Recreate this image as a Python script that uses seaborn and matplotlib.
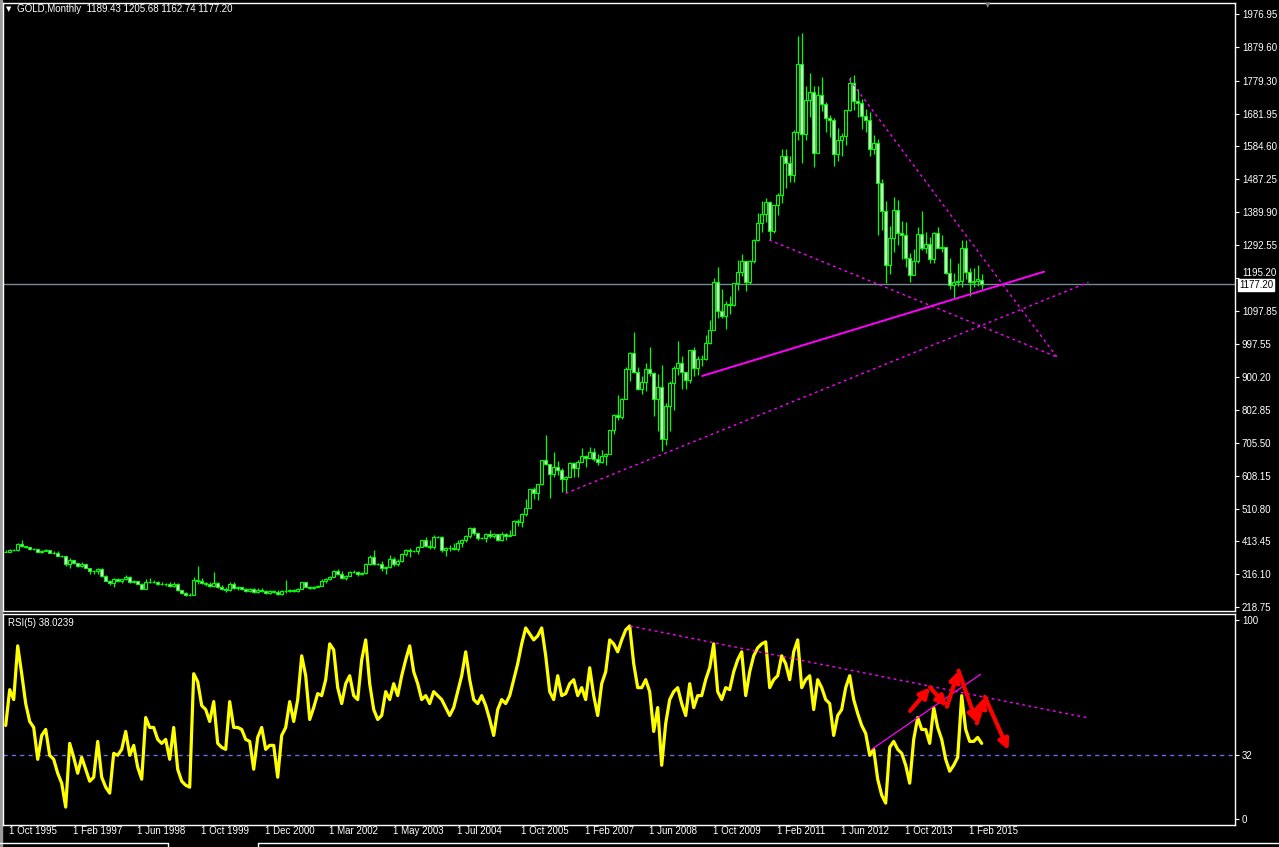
import numpy as np
import pandas as pd
import seaborn as sns
from matplotlib import pyplot as plt
from matplotlib.patches import Rectangle
from matplotlib.lines import Line2D

W, H = 1279, 847

# monthly candles, one entry per bar (Oct 1995 .. Jun 2015 as the terminal shows them)
close = [
    383, 387, 387, 405, 400, 396, 392, 391, 382, 385, 387, 379, 379, 371, 369,
    345, 358, 349, 340, 345, 334, 326, 325, 332, 311, 296, 290,
    303, 297, 301, 309, 293, 296, 288, 273, 293, 292, 294, 288,
    287, 287, 280, 286, 268, 261, 255, 254, 299,
    296, 289, 288, 280, 291, 277, 272, 268, 286, 274, 277, 272, 267, 272, 262, 270,
    266, 261, 266, 263, 257, 266, 265, 270, 265, 273,
    293, 279, 275, 279, 282, 296, 301, 309, 326, 318, 305, 312, 324, 324, 317, 319,
    347, 367, 347, 347, 334, 336, 361, 346, 354, 375, 388, 386, 386, 398, 416, 400,
    396, 427, 427, 387, 394, 395, 391, 408, 418, 428, 453, 438, 423, 423, 435, 428,
    435, 417, 436, 430, 433, 473,
    470, 495, 513,
    569, 556, 582, 654, 643, 613, 633, 624, 599, 604, 646, 632,
    650, 665, 662, 679, 659, 650, 666, 673, 743, 789, 783, 834,
    923, 971, 916, 865, 887, 925, 914, 834, 870, 718, 815, 884,
    928, 942, 916, 891, 980, 927, 954, 955, 1001, 1040, 1182, 1096,
    1081, 1118, 1113, 1180, 1213, 1244, 1181, 1246, 1307, 1357, 1383, 1421,
    1333, 1410, 1439, 1556, 1536, 1500, 1628, 1828, 1620, 1722, 1746, 1566,
    1738, 1710, 1669, 1664, 1561, 1604, 1614, 1693, 1772, 1720, 1712, 1675,
    1663, 1578, 1595, 1476, 1393, 1234, 1313, 1396, 1327, 1323, 1253, 1202,
    1244, 1326, 1284, 1296, 1250, 1327, 1282, 1287, 1210, 1172, 1183, 1184,
    1283, 1213, 1183, 1184, 1190, 1177.20,
]
high = [
    387, 390, 390, 408, 417, 401, 397, 394, 391, 389, 392, 388, 385, 384, 373,
    369, 365, 358, 350, 351, 346, 335, 329, 335, 333, 314, 299,
    305, 305, 303, 314, 311, 299, 296, 289, 301, 306, 300, 297,
    293, 291, 292, 292, 290, 268, 264, 260, 309,
    339, 305, 294, 292, 322, 294, 285, 278, 294, 292, 280, 279, 275, 275, 276, 274,
    276, 270, 269, 268, 268, 269, 298, 272, 272, 276,
    294, 294, 280, 281, 285, 303, 305, 310, 327, 330, 326, 315, 326, 327, 326, 323,
    349, 372, 389, 350, 354, 341, 374, 367, 362, 378, 392, 394, 389, 400, 417, 427,
    417, 432, 430, 430, 398, 403, 410, 416, 419, 432, 455, 456, 438, 426, 439, 446,
    438, 436, 441, 437, 447, 476,
    479, 497, 538,
    570, 574, 584, 655, 730, 643, 677, 652, 632, 608, 650, 648,
    656, 690, 670, 693, 691, 671, 683, 675, 745, 791, 847, 838,
    930, 975, 1033, 930, 905, 941, 989, 917, 910, 935, 825, 889,
    934, 1006, 963, 917, 981, 990, 962, 966, 1025, 1071, 1195, 1227,
    1163, 1127, 1140, 1180, 1249, 1265, 1244, 1248, 1309, 1388, 1424, 1432,
    1424, 1412, 1447, 1577, 1577, 1556, 1632, 1911, 1921, 1764, 1803, 1764,
    1764, 1791, 1716, 1677, 1668, 1640, 1625, 1693, 1790, 1796, 1754, 1725,
    1695, 1685, 1617, 1605, 1488, 1424, 1348, 1434, 1425, 1362, 1361, 1267,
    1280, 1345, 1392, 1331, 1315, 1332, 1345, 1323, 1287, 1255, 1208, 1239,
    1307, 1307, 1224, 1224, 1232, 1205.68,
]
low = [
    381, 382, 384, 386, 397, 394, 389, 389, 381, 380, 384, 378, 377, 370, 366,
    341, 334, 347, 337, 338, 334, 318, 318, 318, 308, 296, 283,
    278, 293, 289, 299, 291, 289, 286, 271, 273, 290, 289, 285,
    283, 282, 277, 279, 266, 257, 252, 251, 253,
    288, 286, 281, 278, 278, 274, 270, 263, 266, 271, 270, 268, 263, 264, 259, 259,
    262, 256, 257, 260, 255, 255, 260, 262, 263, 262,
    271, 277, 272, 273, 277, 281, 289, 300, 307, 315, 301, 300, 310, 321, 312, 314,
    317, 343, 344, 344, 325, 318, 335, 340, 341, 352, 371, 367, 383, 376, 397, 398,
    390, 390, 424, 382, 371, 386, 387, 384, 398, 412, 423, 433, 417, 420, 411, 424,
    423, 413, 414, 418, 429, 433,
    460, 456, 489,
    513, 538, 535, 580, 640, 542, 605, 610, 560, 561, 603, 605,
    603, 648, 635, 660, 651, 641, 645, 641, 671, 731, 772, 777,
    834, 889, 912, 863, 850, 860, 903, 786, 740, 682, 700, 740,
    802, 907, 865, 865, 882, 905, 906, 932, 952, 1000, 1040, 1075,
    1075, 1044, 1088, 1111, 1160, 1201, 1157, 1175, 1239, 1305, 1330, 1361,
    1308, 1327, 1381, 1417, 1462, 1478, 1478, 1603, 1535, 1602, 1672, 1523,
    1564, 1690, 1628, 1612, 1527, 1540, 1555, 1588, 1690, 1692, 1672, 1635,
    1626, 1555, 1562, 1321, 1338, 1180, 1207, 1270, 1291, 1251, 1226, 1182,
    1202, 1239, 1277, 1268, 1240, 1240, 1282, 1272, 1205, 1161, 1131, 1170,
    1167, 1190, 1142, 1168, 1170, 1162.74,
]
first_open = 382.0
last_open = 1189.43

rsi = [
    47, 65, 60, 87, 73, 58, 49, 46, 30, 42, 45, 32, 30, 23, 18, 6, 38, 31, 23, 31,
    25, 19, 21, 39, 21, 16, 13, 33, 32, 35, 44, 32, 37, 26, 20, 51, 46, 46, 40, 38,
    40, 30, 46, 25, 19, 17, 16, 73, 69, 57, 55, 49, 59, 38, 36, 35, 59, 46, 46, 45,
    40, 39, 25, 41, 46, 35, 37, 37, 21, 42, 46, 59, 49, 60, 82, 72, 50, 56, 63,
    62, 70, 88, 85, 66, 58, 68, 72, 62, 60,
    80, 90, 68, 55, 50, 52, 64, 60, 68, 62,
    72, 80, 87, 74, 68, 60, 62, 58, 64, 62,
    60, 56, 52, 56, 64, 72, 84, 70, 60, 58,
    62, 57, 50, 42, 55, 60, 58, 62, 70, 78,
    88, 96, 93, 90, 92, 96, 82, 64, 60, 72,
    62, 63, 68, 70, 62, 66, 60, 76, 62, 52,
    68, 74, 90, 88, 84, 90, 95, 97, 78, 66,
    66, 70, 64, 44, 56, 27, 48, 60, 64, 66,
    58, 52, 68, 56, 62, 62, 70, 76, 88, 64,
    60, 66, 65, 74, 80, 84, 62, 74, 82, 86,
    88, 89, 66, 70, 72, 82, 78, 70, 84, 90,
    66, 70, 72, 55, 70, 66, 60, 58, 42, 52,
    55, 66, 72, 60, 53, 47, 43, 32, 35, 20,
    12, 8, 36, 39, 35, 33, 27, 18, 40, 51,
    45, 45, 38, 56, 46, 40, 30, 24, 27, 31,
    62, 45, 39, 39, 41, 38.02,
]

price_ticks = [1976.95, 1879.60, 1779.30, 1681.95, 1584.60, 1487.25, 1389.90,
               1292.55, 1195.20, 1097.85, 997.55, 900.20, 802.85, 705.50,
               608.15, 510.80, 413.45, 316.10, 218.75]
rsi_ticks = [100, 32, 0]
date_labels = ['1 Oct 1995', '1 Feb 1997', '1 Jun 1998', '1 Oct 1999',
               '1 Dec 2000', '1 Mar 2002', '1 May 2003', '1 Jul 2004',
               '1 Oct 2005', '1 Feb 2007', '1 Jun 2008', '1 Oct 2009',
               '1 Feb 2011', '1 Jun 2012', '1 Oct 2013', '1 Feb 2015']
date_bars = [0, 16, 32, 48, 64, 80, 96, 112, 128, 144, 160, 176, 192, 208, 224, 240]
last_price = 1177.20
rsi_level = 32

# hand drawn objects, (bar, value) end points
solid_trend = ([174.1, 259.6], [903.7, 1212.9])
dashed_trends = [([140.0, 270.7], [555.9, 1181.5]),
                 ([190.9, 262.8], [1306.9, 960.0]),
                 ([210.9, 262.8], [1783.4, 960.0])]
rsi_dashed_trend = ([156.1, 270.6], [97.0, 50.8])
rsi_solid_trend = ([216.5, 243.7], [35.0, 72.7])
arrow_bars = [226.1, 231.1, 235.3, 238.2, 242.8, 244.8, 250.7]
arrow_rsi = [54.3, 66.2, 56.4, 74.5, 48.1, 61.4, 34.6]

df = pd.DataFrame({'close': close, 'high': high, 'low': low, 'rsi': rsi})
df['bar'] = np.arange(len(df))
df['open'] = [first_open] + close[:-1]
df.loc[df.index[-1], 'open'] = last_open

LIME = '#00FF00'
MAGENTA = '#FF00FF'

sns.set_theme(style='dark', rc={'axes.facecolor': 'black', 'figure.facecolor': 'black'})
plt.rcParams['font.family'] = ['Liberation Sans', 'DejaVu Sans']

fig = plt.figure(figsize=(W / 100, H / 100), dpi=100)


def px_rect(l, t, r, b):
    return [l / W, 1 - b / H, (r - l) / W, (b - t) / H]


ax = fig.add_axes(px_rect(3, 3, 1235, 611))
ax2 = fig.add_axes(px_rect(3, 614, 1235, 825))
xlim = ((3 - 5.7) / 4, (1235 - 5.7) / 4)

for a in (ax, ax2):
    a.set_facecolor('black')
    a.grid(False)
    a.set_xlim(*xlim)
    for s in a.spines.values():
        s.set_color('white')
        s.set_linewidth(1)
    a.yaxis.tick_right()
    a.tick_params(axis='y', colors='white', length=3, width=0.8, pad=2, labelsize=7)
    a.set_xlabel('')
    a.set_ylabel('')

# candles
ax.vlines(df['bar'], df['low'], df['high'], color=LIME, lw=0.9, zorder=2)
body_lo = np.minimum(df['open'], df['close'])
body_h = (df['close'] - df['open']).abs()
fills = np.where(df['close'] >= df['open'], 'black', 'white')
ax.bar(df['bar'], body_h, bottom=body_lo, width=0.72, color=fills,
       edgecolor=LIME, linewidth=0.8, zorder=3)

ax.axhline(last_price, color='#778899', lw=1, zorder=1)
ax.plot(*solid_trend, color=MAGENTA, lw=1.4, zorder=4)
for xs, ys in dashed_trends:
    ax.plot(xs, ys, color=MAGENTA, lw=1.0, ls=(0, (2, 2.5)), zorder=4)

ax.set_ylim(206.9, 2009.6)
ax.set_yticks(price_ticks)
price_labels = ax.set_yticklabels([f'{v:.2f}' for v in price_ticks])
for lab in price_labels:
    # the last-price box sits over this one, keep it just above the box
    if lab.get_text() == '1195.20':
        lab.set_verticalalignment('bottom')
ax.set_xticks([])

# RSI pane
sns.lineplot(data=df, x='bar', y='rsi', ax=ax2, color='#FFFF00', lw=2.3, zorder=3)
ax2.axhline(rsi_level, color='#6A6ADC', lw=1, ls=(0, (3, 3)), zorder=1)
ax2.plot(*rsi_dashed_trend, color=MAGENTA, lw=1.0, ls=(0, (2, 2.5)), zorder=4)
ax2.plot(*rsi_solid_trend, color=MAGENTA, lw=0.9, zorder=4)
for i in range(len(arrow_bars) - 1):
    ax2.annotate('', xy=(arrow_bars[i + 1], arrow_rsi[i + 1]),
                 xytext=(arrow_bars[i], arrow_rsi[i]),
                 arrowprops=dict(arrowstyle='-|>', color='#FF0000', lw=3.0,
                                 mutation_scale=15, shrinkA=0, shrinkB=0),
                 zorder=5)
ax2.set_ylim(-3.0, 103.0)
ax2.set_yticks(rsi_ticks)
ax2.set_yticklabels([str(v) for v in rsi_ticks])
ax2.set_xlabel('')
ax2.set_ylabel('')
ax2.set_xticks(date_bars)
ax2.set_xticklabels([])
ax2.tick_params(axis='x', colors='white', direction='out', length=5, width=0.8)
for b, lab in zip(date_bars, date_labels):
    ax2.annotate(lab, xy=(b, 0), xycoords=('data', 'axes fraction'),
                 xytext=(3, -1), textcoords='offset pixels',
                 ha='left', va='top', color='white', fontsize=7)

# texts of the terminal window
fig.text(9 / W, 1 - 9 / H, '\u25BC', color='white', fontsize=5, ha='center', va='center',
         family=['DejaVu Sans'])
fig.text(17 / W, 1 - 9 / H, 'GOLD,Monthly  1189.43 1205.68 1162.74 1177.20',
         color='white', fontsize=7, ha='left', va='center')
fig.text(8 / W, 1 - 623 / H, 'RSI(5) 38.0239', color='white', fontsize=7,
         ha='left', va='center')
fig.text(988 / W, 1 - 5 / H, '\u25BC', color='#808080', fontsize=5, ha='center',
         va='center', family=['DejaVu Sans'])
fig.text(1239 / W, 1 - 285 / H, f'{last_price:.2f}', color='black', fontsize=7,
         ha='left', va='center', zorder=10,
         bbox=dict(facecolor='white', edgecolor='white', pad=0.6))

# window frame bits
fig.add_artist(Rectangle((0, 0), 2 / W, 1, transform=fig.transFigure,
                         color='#9a9a9a', zorder=0))
for x0, x1 in [(0, 168), (258, 1279)]:
    fig.add_artist(Line2D([x0 / W, x1 / W], [1 - 843 / H, 1 - 843 / H],
                          color='white', lw=1, transform=fig.transFigure))
for xv in (168, 258):
    fig.add_artist(Line2D([xv / W, xv / W], [1 - 843 / H, 0],
                          color='white', lw=1, transform=fig.transFigure))

fig.savefig('out.png', dpi=100, facecolor='black')
